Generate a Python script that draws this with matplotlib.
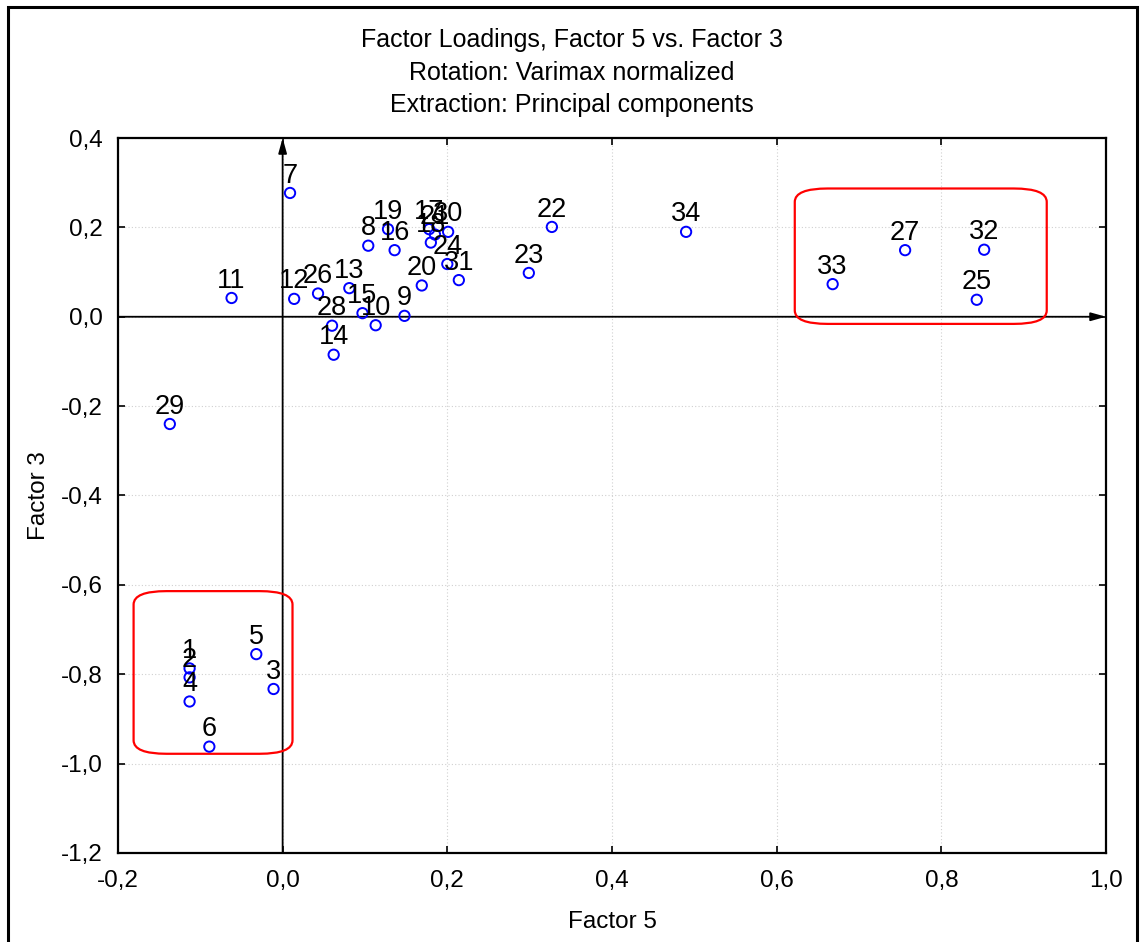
import matplotlib
matplotlib.use("Agg")
import matplotlib.pyplot as plt
from matplotlib.patches import FancyBboxPatch, Rectangle
from matplotlib.ticker import FuncFormatter

plt.rcParams['font.family'] = ['Liberation Sans', 'DejaVu Sans']

labels = ['1', '2', '3', '4', '5', '6', '7', '8', '9', '10', '11', '12', '13', '14', '15', '16', '17',
          '18', '19', '20', '21', '22', '23', '24', '25', '26', '27', '28', '29', '30', '31', '32', '33', '34']
factor5 = [-0.113, -0.113, -0.011, -0.113, -0.032, -0.089, 0.009, 0.104, 0.148, 0.113, -0.062, 0.014,
           0.081, 0.062, 0.097, 0.136, 0.178, 0.180, 0.128, 0.169, 0.185, 0.327, 0.299, 0.200, 0.843,
           0.043, 0.756, 0.060, -0.137, 0.201, 0.214, 0.852, 0.668, 0.490]
factor3 = [-0.787, -0.807, -0.833, -0.861, -0.755, -0.962, 0.277, 0.159, 0.002, -0.019, 0.042, 0.040,
           0.064, -0.085, 0.008, 0.149, 0.196, 0.166, 0.196, 0.070, 0.184, 0.201, 0.098, 0.118, 0.038,
           0.052, 0.149, -0.020, -0.240, 0.190, 0.082, 0.150, 0.073, 0.190]

xticks = [-0.2, 0.0, 0.2, 0.4, 0.6, 0.8, 1.0]
yticks = [-1.2, -1.0, -0.8, -0.6, -0.4, -0.2, 0.0, 0.2, 0.4]
title_lines = ['Factor Loadings, Factor 5 vs. Factor 3', 'Rotation: Varimax normalized',
               'Extraction: Principal components']

fig = plt.figure(figsize=(11.44, 9.42), dpi=100)
ax = fig.add_axes([0.1031, 0.0945, 0.8637, 0.759])

ax.set_xlim(-0.2, 1.0)
ax.set_ylim(-1.2, 0.4)
ax.set_xticks(xticks)
ax.set_yticks(yticks)
fmt = FuncFormatter(lambda v, p: f"{v:.1f}".replace('.', ',').replace('-0,0', '0,0'))
ax.xaxis.set_major_formatter(fmt)
ax.yaxis.set_major_formatter(fmt)
ax.tick_params(direction='in', length=5, width=1.2, labelsize=17.5, top=True, right=True,
               colors='black')
ax.tick_params(axis='x', pad=12)
ax.tick_params(axis='y', pad=11)
ax.grid(True, color='#d0d0d0', linestyle=(0, (1, 2)), linewidth=0.8)
for s in ax.spines.values():
    s.set_linewidth(1.6)

# zero axes with arrows
ax.annotate('', xy=(0.0, 0.4), xytext=(0.0, -1.2),
            arrowprops=dict(arrowstyle='-|>,head_length=0.9,head_width=0.25', color='black', lw=1.3,
                            shrinkA=0, shrinkB=0))
ax.annotate('', xy=(1.0, 0.0), xytext=(-0.2, 0.0),
            arrowprops=dict(arrowstyle='-|>,head_length=0.9,head_width=0.25', color='black', lw=1.3,
                            shrinkA=0, shrinkB=0))

ax.scatter(factor5, factor3, s=55, facecolors='none', edgecolors='#0000ff', linewidths=1.4, zorder=5)
for lab, x, y in zip(labels, factor5, factor3):
    ax.annotate(lab, (x, y), xytext=(0, 7.5), textcoords='offset points', ha='center', va='baseline',
                fontsize=19.5, color='black', zorder=6)

# red rounded boxes
for (x0, y0, x1, y1) in [(0.622, -0.016, 0.928, 0.287), (-0.181, -0.978, 0.012, -0.614)]:
    box = FancyBboxPatch((x0, y0), x1 - x0, y1 - y0,
                         boxstyle='round,pad=0,rounding_size=0.04', mutation_aspect=0.75,
                         fill=False, edgecolor='red', linewidth=1.6, zorder=4)
    ax.add_patch(box)

ax.set_xlabel('Factor 5', fontsize=17.5, labelpad=14)
ax.set_ylabel('Factor 3', fontsize=17.5, labelpad=8)

# title centred on the figure
for i, line in enumerate(title_lines):
    fig.text(0.5, 1 - (40 + 32.5 * i) / 942, line, ha='center', va='center', fontsize=18)

# outer frame
fig.patches.append(Rectangle((8 / 1144, -0.05), (1137 - 8) / 1144, 1.05 - 7 / 942,
                             transform=fig.transFigure, fill=False, edgecolor='black', linewidth=2.2))

fig.savefig('out.png', dpi=100)
